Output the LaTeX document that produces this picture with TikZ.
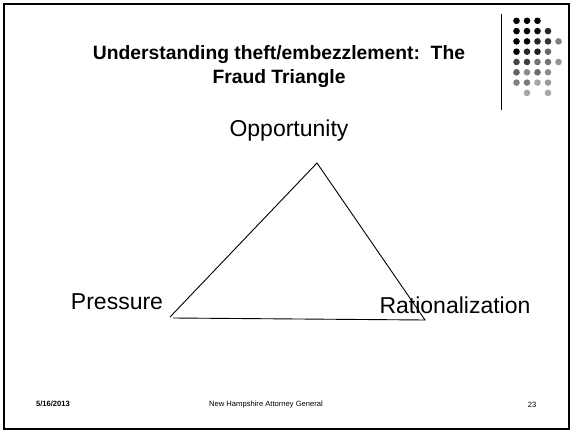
\documentclass[tikz,border=0pt]{standalone}
\usepackage{fontspec}
\setmainfont{Liberation Sans}
\begin{document}
\begin{tikzpicture}[x=1pt,y=-1pt,
  frame/.style={draw=black,line width=1.6pt},
  titletext/.style={font=\fontsize{19.3}{24.5}\selectfont\bfseries,align=center},
  corner/.style={font=\fontsize{23}{26}\selectfont,inner sep=0pt},
  footer/.style={font=\fontsize{7.6}{9}\selectfont,inner sep=0pt},
  edge/.style={draw=black,line width=0.9pt},
  dot/.style={circle,inner sep=0pt,minimum size=6.6pt}]
\useasboundingbox (0,0) rectangle (571,434);
\fill[white] (0,0) rectangle (571,434);
% slide border
\draw[frame] (4,4) rectangle (569,429);
% divider beside the dot block
\draw[line width=1pt] (501,14) -- (501,110);
% dot block, fading from black to light grey
\foreach \c/\r/\g in {1/1/100,2/1/100,3/1/100,
                      1/2/100,2/2/100,3/2/95,4/2/85,
                      1/3/100,2/3/100,3/3/85,4/3/80,5/3/50,
                      1/4/100,2/4/85,3/4/88,4/4/60,
                      1/5/72,2/5/75,3/5/55,4/5/55,5/5/42,
                      1/6/62,2/6/45,3/6/58,4/6/45,
                      1/7/50,2/7/52,3/7/35,4/7/40,
                      2/8/35,4/8/35}{
  \node[dot,fill=black!\g] (d\c\r) at ({506+10.5*\c},{10.5+10.3*\r}) {};
}
% title
\node[titletext] (title) at (279,66.5) {Understanding theft/embezzlement:\ \ The\\Fraud Triangle};
% triangle corners
\coordinate (top) at (317,163);
\coordinate (left) at (170,317);
\coordinate (leftb) at (173,318);
\coordinate (right) at (425,320);
\draw[edge] (left) -- (top) -- (right) -- (leftb);
% corner labels
\node[corner] (opp) at (289,131) {Opportunity};
\node[corner] (pres) at (117,302) {Pressure};
\node[corner] (rat) at (455,305) {Rationalization};
% footer
\node[footer,font=\fontsize{7.6}{9}\selectfont\bfseries] (date) at (53,404) {5/16/2013};
\node[footer] (org) at (266,405) {New Hampshire Attorney General};
\node[footer] (num) at (532,405) {23};
\end{tikzpicture}
\end{document}
